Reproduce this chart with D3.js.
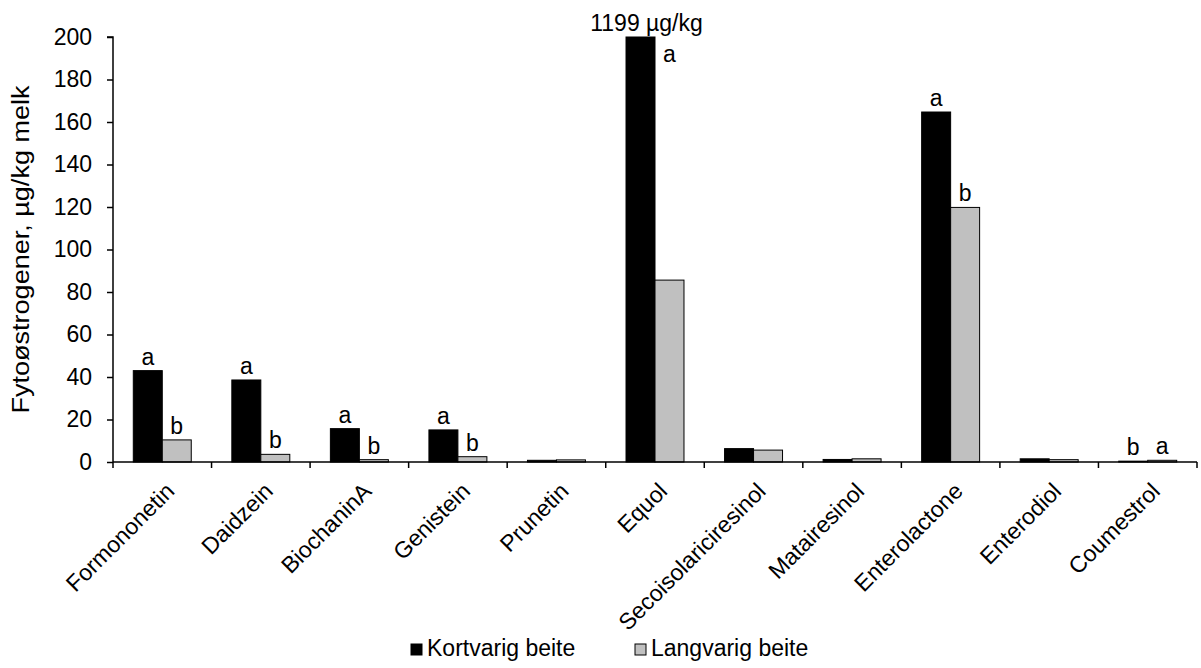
<!DOCTYPE html>
<html>
<head>
<meta charset="utf-8">
<script src="https://cdn.jsdelivr.net/npm/d3@7"></script>
<style>
  html, body { margin: 0; padding: 0; background: #fff; }
  svg text { font-family: "Liberation Sans", Arial, sans-serif; fill: #000; }
</style>
</head>
<body>
<svg id="chart" width="1201" height="668"></svg>
<script>
// Phytoestrogens in milk, µg/kg, short vs. long grazing
const categories = ["Formononetin", "Daidzein", "BiochaninA", "Genistein", "Prunetin", "Equol",
  "Secoisolariciresinol", "Matairesinol", "Enterolactone", "Enterodiol", "Coumestrol"];
const seriesNames = ["Kortvarig beite", "Langvarig beite"];
const kortvarig = [43, 38.6, 15.7, 15.1, 0.8, 1199, 6.3, 1.2, 164.7, 1.5, 0.4];
const langvarig = [10.4, 3.6, 1.1, 2.5, 1.0, 85.6, 5.6, 1.5, 119.8, 1.1, 0.8];
const lettersKort = ["a", "a", "a", "a", "", "a", "", "", "a", "", "b"];
const lettersLang = ["b", "b", "b", "b", "", "b", "", "", "b", "", "a"];
const yTicks = [0, 20, 40, 60, 80, 100, 120, 140, 160, 180, 200];
const yMax = 200;
const yTitle = "Fytoøstrogener, µg/kg melk";
const unitLabel = " µg/kg";

const colors = ["#000000", "#c0c0c0"];
const FONT = 23;        // base font size
const svg = d3.select("#chart");
const margin = { left: 113, top: 37, bottom: 206 };
const W = 1201, H = 668;
const plotBottom = H - margin.bottom;   // y of value 0
const plotRight = 1197;

const x0 = d3.scaleBand().domain(categories).range([margin.left, plotRight]).padding(0);
const x1 = d3.scaleBand().domain(seriesNames).range([0, x0.bandwidth()])
  .paddingInner(0).paddingOuter(0.7);
const y = d3.scaleLinear().domain([0, yMax]).range([plotBottom, margin.top]);

const rows = categories.map((c, i) => ({
  cat: c,
  vals: [
    { s: seriesNames[0], v: kortvarig[i], letter: lettersKort[i] },
    { s: seriesNames[1], v: langvarig[i], letter: lettersLang[i] }
  ]
}));

// Bars
const g = svg.append("g");
const groups = g.selectAll("g.cat").data(rows).join("g")
  .attr("transform", d => `translate(${x0(d.cat)},0)`);

groups.selectAll("rect").data(d => d.vals).join("rect")
  .attr("x", d => x1(d.s))
  .attr("y", d => y(Math.min(d.v, yMax)))
  .attr("width", x1.bandwidth())
  .attr("height", d => plotBottom - y(Math.min(d.v, yMax)))
  .attr("fill", (d, i) => colors[i])
  .attr("stroke", "#000")
  .attr("stroke-width", 1);

// Significance letters above bars; when the first bar runs off the scale,
// its letter sits beside the top of the cut bar
const letterData = d => {
  const clipped = d.vals[0].v > yMax;
  if (clipped) {
    return [{ x: x1(seriesNames[1]) + x1.bandwidth() / 2, y: y(yMax) + 25, t: d.vals[0].letter }];
  }
  return d.vals.map(v => ({ x: x1(v.s) + x1.bandwidth() / 2, y: y(v.v) - 6, t: v.letter }));
};
groups.selectAll("text.letter").data(letterData).join("text")
  .attr("class", "letter")
  .attr("x", d => d.x)
  .attr("y", d => d.y)
  .attr("text-anchor", "middle")
  .attr("font-size", FONT)
  .text(d => d.t);

// Value label for the bar cut at the top of the scale
const clippedIdx = kortvarig.findIndex(v => v > yMax);
if (clippedIdx >= 0) {
  const cat = categories[clippedIdx];
  svg.append("text")
    .attr("x", x0(cat) + x1(seriesNames[0]) + x1.bandwidth() / 2 + 6)
    .attr("y", y(yMax) - 6)
    .attr("text-anchor", "middle")
    .attr("font-size", FONT)
    .text(kortvarig[clippedIdx] + unitLabel);
}

// Y axis
const yAxis = d3.axisLeft(y).tickValues(yTicks).tickSize(6).tickPadding(15).tickFormat(d3.format("d"));
const yG = svg.append("g").attr("transform", `translate(${margin.left},0)`).call(yAxis);
yG.select(".domain").attr("stroke", "#000").attr("stroke-width", 1.5).attr("d", `M-6,${y(yMax)}H0V${plotBottom}`);
yG.selectAll(".tick line").attr("stroke", "#000").attr("stroke-width", 1.5);
yG.selectAll(".tick text").attr("font-size", FONT)
  .attr("font-family", "Liberation Sans, Arial, sans-serif");

// X axis with ticks at category boundaries
const xG = svg.append("g").attr("transform", `translate(0,${plotBottom})`);
xG.append("line").attr("x1", margin.left).attr("x2", plotRight)
  .attr("stroke", "#000").attr("stroke-width", 1.5);
const boundaries = categories.map(c => x0(c)).concat([plotRight]);
xG.selectAll("line.tick").data(boundaries).join("line")
  .attr("class", "tick")
  .attr("x1", d => d).attr("x2", d => d).attr("y1", 0).attr("y2", 6)
  .attr("stroke", "#000").attr("stroke-width", 1.5);
xG.selectAll("text.cat").data(categories).join("text")
  .attr("class", "cat")
  .attr("transform", d => `translate(${x0(d) + x0.bandwidth() / 2 + 2},${19}) rotate(-45)`)
  .attr("text-anchor", "end")
  .attr("dy", "0.71em")
  .attr("font-size", FONT)
  .text(d => d);

// Y axis title
svg.append("text")
  .attr("transform", `translate(29,${(margin.top + plotBottom) / 2}) rotate(-90)`)
  .attr("text-anchor", "middle")
  .attr("font-size", 23)
  .attr("textLength", 328)
  .attr("lengthAdjust", "spacingAndGlyphs")
  .text(yTitle);

// Legend
const legend = svg.append("g").attr("transform", "translate(411,656)");
const legendItems = [{ name: seriesNames[0], x: 0 }, { name: seriesNames[1], x: 224 }];
legendItems.forEach((it, i) => {
  legend.append("rect").attr("x", it.x).attr("y", -12).attr("width", 11).attr("height", 11)
    .attr("fill", colors[i]).attr("stroke", "#000").attr("stroke-width", 1);
  legend.append("text").attr("x", it.x + 16).attr("y", 0).attr("font-size", FONT).text(it.name);
});
</script>
</body>
</html>
